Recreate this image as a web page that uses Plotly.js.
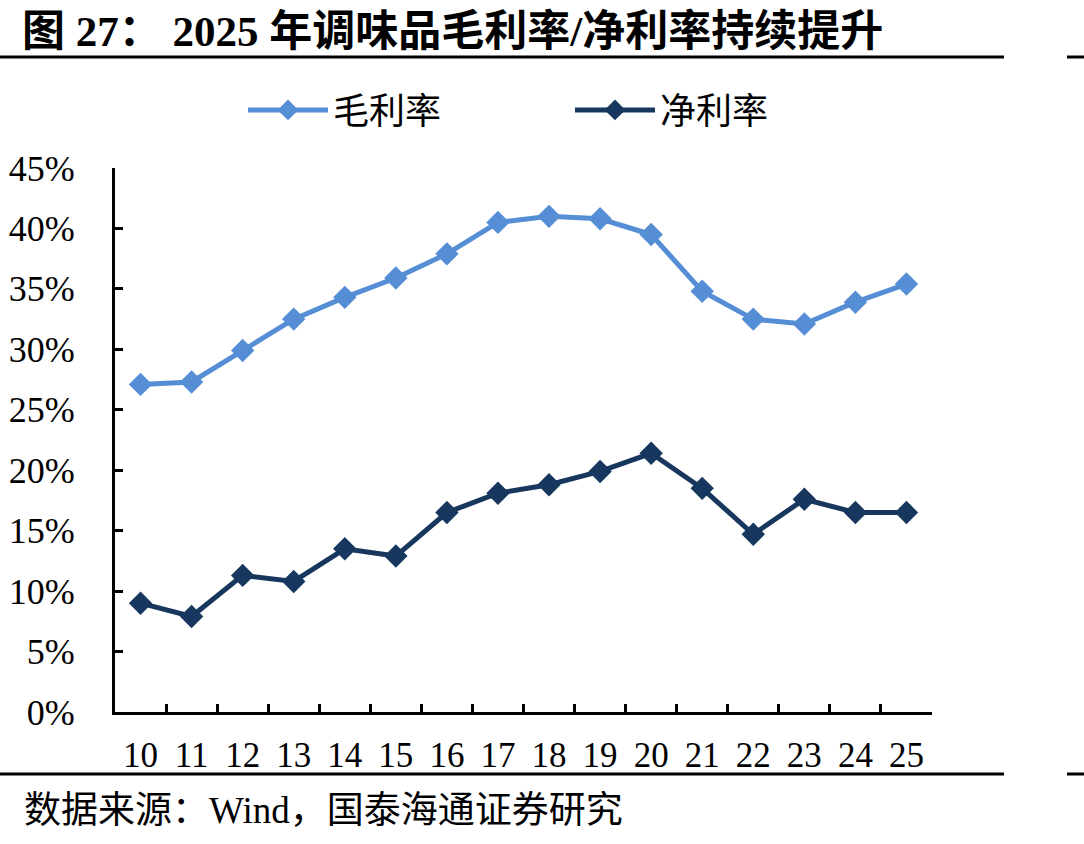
<!DOCTYPE html>
<html>
<head>
<meta charset="utf-8">
<script src="https://cdn.plot.ly/plotly-3.0.1.min.js"></script>
<style>html,body{margin:0;padding:0;background:#fff;}#chart{width:1084px;height:844px;}</style>
</head>
<body>
<div id="chart"></div>
<script>
const categories = ['10','11','12','13','14','15','16','17','18','19','20','21','22','23','24','25'];
const grossMargin = [27.1, 27.3, 29.9, 32.5, 34.3, 35.9, 37.9, 40.5, 41.0, 40.8, 39.5, 34.8, 32.5, 32.1, 33.9, 35.4];
const netMargin = [9.0, 7.9, 11.3, 10.8, 13.5, 12.9, 16.5, 18.1, 18.8, 19.9, 21.4, 18.5, 14.7, 17.6, 16.5, 16.5];
const yTickVals = [0, 5, 10, 15, 20, 25, 30, 35, 40, 45];
const yTickText = ['0%', '5%', '10%', '15%', '20%', '25%', '30%', '35%', '40%', '45%'];

const serif = '"Liberation Serif", "Times New Roman", "Noto Sans CJK SC", serif';

const traces = [
  {
    x: categories, y: grossMargin, name: '毛利率', type: 'scatter', mode: 'lines+markers',
    line: {color: '#558ED5', width: 5},
    marker: {symbol: 'diamond', size: 18, color: '#558ED5'}
  },
  {
    x: categories, y: netMargin, name: '净利率', type: 'scatter', mode: 'lines+markers',
    line: {color: '#17375E', width: 5},
    marker: {symbol: 'diamond', size: 18, color: '#17375E'}
  }
];

const L = 115, R = 932, T = 168, B = 712;
const W = R - L, H = B - T;
const px = v => (v - L) / W;
const py = v => (B - v) / H;

const layout = {
  width: 1084, height: 844,
  margin: {l: L, r: 1084 - R, t: T, b: 844 - B},
  paper_bgcolor: '#fff', plot_bgcolor: '#fff',
  font: {family: serif, size: 35, color: '#000'},
  title: {
    text: '<b>图 27： 2025 年调味品毛利率/净利率持续提升</b>',
    x: 22 / 1084, xref: 'container', xanchor: 'left',
    y: 1 - 31 / 844, yref: 'container', yanchor: 'middle',
    font: {family: serif, size: 43, color: '#000'}
  },
  showlegend: true,
  legend: {
    orientation: 'h', x: px(243), xanchor: 'left', y: py(110), yanchor: 'middle',
    font: {family: serif, size: 36, color: '#000'},
    itemwidth: 80, entrywidth: 232, entrywidthmode: 'pixels',
    bgcolor: 'rgba(0,0,0,0)'
  },
  xaxis: {
    type: 'category', tickson: 'boundaries', ticks: 'inside', ticklen: 8, tickwidth: 3, tickcolor: '#000',
    showline: true, linecolor: '#000', linewidth: 3, showgrid: false, zeroline: false,
    range: [-0.5, 15.5], tickfont: {family: serif, size: 35, color: '#000'},
    ticklabelstandoff: 10
  },
  yaxis: {
    range: [0, 45], tickvals: yTickVals, ticktext: yTickText,
    ticks: 'inside', ticklen: 8, tickwidth: 3, tickcolor: '#000',
    showline: true, linecolor: '#000', linewidth: 3, showgrid: false, zeroline: false,
    tickfont: {family: serif, size: 36, color: '#000'},
    ticklabelstandoff: 30
  },
  shapes: [
    {type: 'line', xref: 'paper', yref: 'paper', x0: px(0), x1: px(1004), y0: py(57), y1: py(57), line: {color: '#000', width: 3}},
    {type: 'line', xref: 'paper', yref: 'paper', x0: px(1067), x1: px(1084), y0: py(57), y1: py(57), line: {color: '#000', width: 3}},
    {type: 'line', xref: 'paper', yref: 'paper', x0: px(0), x1: px(1004), y0: py(774), y1: py(774), line: {color: '#000', width: 3}},
    {type: 'line', xref: 'paper', yref: 'paper', x0: px(1067), x1: px(1084), y0: py(774), y1: py(774), line: {color: '#000', width: 3}}
  ],
  annotations: [
    {text: '数据来源：Wind，国泰海通证券研究', xref: 'paper', yref: 'paper', x: px(22), y: py(810),
     xanchor: 'left', yanchor: 'middle', showarrow: false, font: {family: serif, size: 37, color: '#000'}}
  ]
};

Plotly.newPlot('chart', traces, layout, {displayModeBar: false, staticPlot: true});
</script>
</body>
</html>
